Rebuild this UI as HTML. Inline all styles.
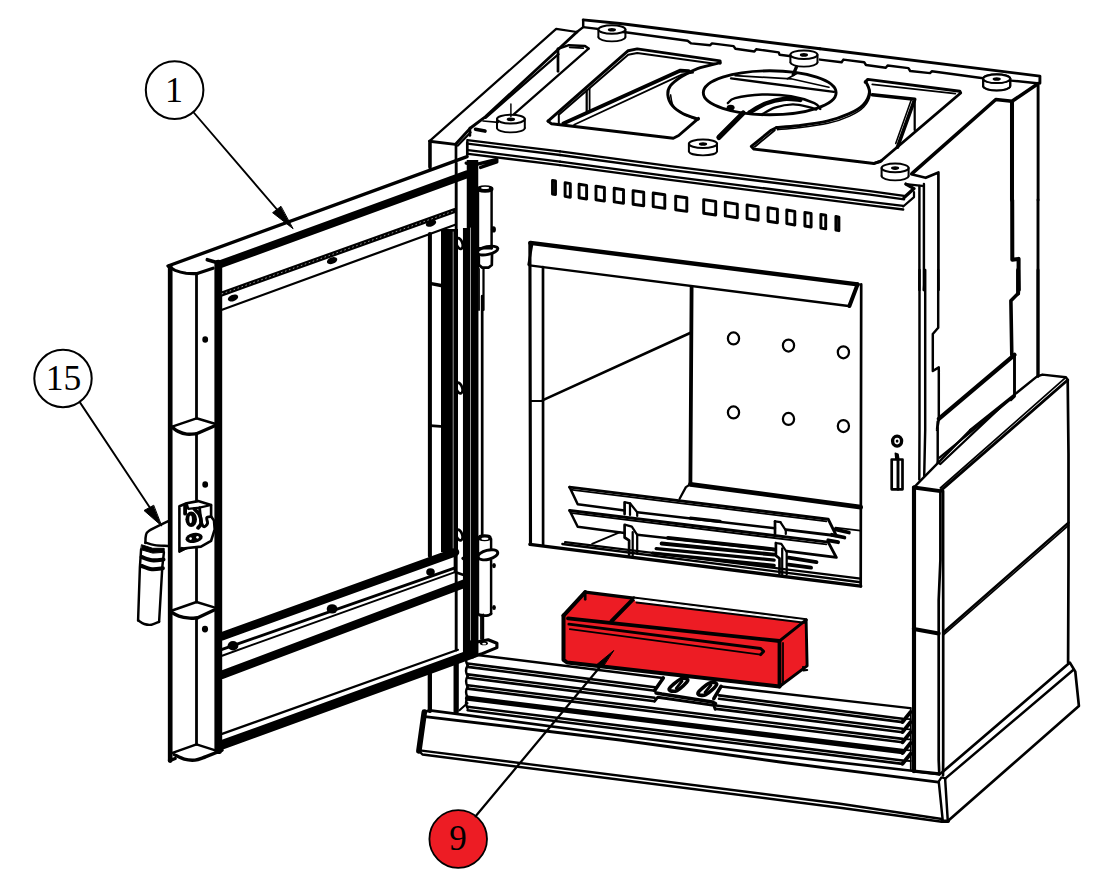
<!DOCTYPE html>
<html><head><meta charset="utf-8"><title>Parts diagram</title>
<style>
html,body{margin:0;padding:0;background:#fff}
svg{display:block}
text{font-family:"Liberation Serif","DejaVu Serif",serif}
</style></head><body>
<svg width="1111" height="887" viewBox="0 0 1111 887">
<rect width="1111" height="887" fill="#fff"/>
<g stroke-linecap="round" stroke-linejoin="round">
<ellipse cx="174.6" cy="90.1" rx="28.8" ry="28.8" fill="none" stroke="#000" stroke-width="2.02"/>
<text x="174" y="102.1" font-size="36" text-anchor="middle" fill="#000">1</text>
<path d="M193.7 112.5L285.6 219.5" fill="none" stroke="#000" stroke-width="1.9"/>
<path d="M292.8 228.5L272.6 212.7L280.7 206.5Z" fill="#000" stroke="#000" stroke-width="1"/>
<path d="M168 266L467.1 156.6" fill="none" stroke="#000" stroke-width="3.36"/>
<path d="M170.2 266.4L170.2 760.6" fill="none" stroke="#000" stroke-width="4.7"/>
<path d="M168.8 266.4C169.8 267.1 172.4 269.2 175.2 270.4C178.1 271.5 182.4 272.7 186.1 273.3C189.7 273.8 195.4 273.6 197.2 273.6" fill="none" stroke="#000" stroke-width="3.14"/>
<path d="M197.2 273.6L213.1 268.2" fill="none" stroke="#000" stroke-width="3.14"/>
<path d="M196.5 274L196.5 418.3" fill="none" stroke="#000" stroke-width="2.8"/>
<path d="M196.5 433.8L196.5 602" fill="none" stroke="#000" stroke-width="2.8"/>
<path d="M196.5 617.9L196.5 744.4" fill="none" stroke="#000" stroke-width="2.8"/>
<path d="M170.7 611L196.5 602L214.2 607.4" fill="none" stroke="#000" stroke-width="2.46"/>
<path d="M170.7 611.7C172.1 612.5 175.7 615 178.9 616.1C182 617.2 186.6 617.9 189.7 618.2C192.7 618.5 196 617.9 197.2 617.9" fill="none" stroke="#000" stroke-width="3.36"/>
<path d="M197.2 617.9L214.2 609.9" fill="none" stroke="#000" stroke-width="3.36"/>
<path d="M172.2 426.6L196.5 418.3L214.9 423.8" fill="none" stroke="#000" stroke-width="2.46"/>
<path d="M172.2 427.3C173.2 428 175.7 430.3 178.1 431.4C180.6 432.6 183.7 433.8 186.8 434.1C189.9 434.5 194.9 433.9 196.5 433.8" fill="none" stroke="#000" stroke-width="3.36"/>
<path d="M196.5 433.8L214.9 425.7" fill="none" stroke="#000" stroke-width="3.36"/>
<path d="M172.5 752.9L196.5 744.4L214.6 750.2" fill="none" stroke="#000" stroke-width="2.46"/>
<path d="M169.5 760.6L175.2 758.5" fill="none" stroke="#000" stroke-width="3.36"/>
<path d="M174.3 754.7C176 755.4 180.8 758.3 184.3 759.2C187.7 760.1 191.8 760.4 195.1 760.1C198.4 759.8 202.6 757.8 204.1 757.4" fill="none" stroke="#000" stroke-width="3.36"/>
<path d="M204.1 757.4L222.1 750.2" fill="none" stroke="#000" stroke-width="3.36"/>
<ellipse cx="205" cy="629.1" rx="3.1" ry="3.4" fill="#000" stroke="#000" stroke-width="0.0"/>
<ellipse cx="205.2" cy="339.5" rx="2.9" ry="3.2" fill="#000" stroke="#000" stroke-width="0.0"/>
<ellipse cx="205.2" cy="484.5" rx="2.9" ry="3.2" fill="#000" stroke="#000" stroke-width="0.0"/>
<path d="M218.3 263.7L218.3 750.2" fill="none" stroke="#000" stroke-width="7.8"/>
<path d="M207.3 259.7L219.4 263.2" fill="none" stroke="#000" stroke-width="3.58"/>
<path d="M219.4 264.6L467.1 174.3" fill="none" stroke="#000" stroke-width="8"/>
<path d="M222.1 293.8L454.4 210.7" fill="none" stroke="#000" stroke-width="5.04"/>
<path d="M222.1 293.8L454.4 210.7" fill="none" stroke="#fff" stroke-width="0.6" stroke-dasharray="0.8 3.4"/>
<path d="M222.1 309.7L455.2 224.7" fill="none" stroke="#000" stroke-width="2.24"/>
<ellipse cx="233" cy="298" rx="5.4" ry="3.2" fill="#000" stroke="#000" stroke-width="0.0" transform="rotate(-20 233 298)"/>
<ellipse cx="332.1" cy="260.6" rx="5.4" ry="3.2" fill="#000" stroke="#000" stroke-width="0.0" transform="rotate(-20 332.1 260.6)"/>
<ellipse cx="431" cy="223.3" rx="5.4" ry="3.2" fill="#000" stroke="#000" stroke-width="0.0" transform="rotate(-20 431 223.3)"/>
<path d="M222.1 636.3L455 552.2" fill="none" stroke="#000" stroke-width="8.5"/>
<path d="M222.1 649.4L455 567.8" fill="none" stroke="#000" stroke-width="2.91"/>
<path d="M222.1 655.7L455 572.1" fill="none" stroke="#000" stroke-width="2.02"/>
<path d="M222.1 674.7L468 582.2" fill="none" stroke="#000" stroke-width="8.5"/>
<path d="M222.1 733.9L457.9 649.8" fill="none" stroke="#000" stroke-width="2.24"/>
<path d="M222.1 744.8L472.3 653.7" fill="none" stroke="#000" stroke-width="9.5"/>
<ellipse cx="233" cy="645.8" rx="5.4" ry="4.7" fill="#000" stroke="#000" stroke-width="0.0"/>
<ellipse cx="332.1" cy="608.9" rx="5.4" ry="4.7" fill="#000" stroke="#000" stroke-width="0.0"/>
<ellipse cx="430.5" cy="572.1" rx="4.3" ry="3.8" fill="#000" stroke="#000" stroke-width="0.0"/>
<path d="M455 554.8L455 572.1L468 576.5L468 583.7" fill="none" stroke="#000" stroke-width="2.69"/>
<path d="M429.9 143L429.9 167" fill="none" stroke="#000" stroke-width="3.36"/>
<path d="M429.9 234L429.9 556" fill="none" stroke="#000" stroke-width="4.03"/>
<path d="M429.9 674L429.9 711" fill="none" stroke="#000" stroke-width="4.03"/>
<path d="M429.8 283.3L441.1 285.5" fill="none" stroke="#000" stroke-width="3.36"/>
<path d="M430.3 425.7L440.4 426.4" fill="none" stroke="#000" stroke-width="2.8"/>
<path d="M449.5 229L449.5 552" fill="none" stroke="#000" stroke-width="17" stroke-linecap="butt"/>
<path d="M453.2 232L453.2 548" fill="none" stroke="#fff" stroke-width="0.6"/>
<path d="M456.2 163L456.2 232" fill="none" stroke="#000" stroke-width="2.91"/>
<path d="M456.2 552L456.2 650" fill="none" stroke="#000" stroke-width="2.91"/>
<path d="M455.5 664L455.5 712" fill="none" stroke="#000" stroke-width="3.81"/>
<path d="M470.7 228L470.7 655" fill="none" stroke="#000" stroke-width="15.5" stroke-linecap="butt"/>
<path d="M472.5 160L472.5 228" fill="none" stroke="#000" stroke-width="11.5" stroke-linecap="butt"/>
<path d="M470.5 228L470.5 640" fill="none" stroke="#fff" stroke-width="0.6"/>
<path d="M482.2 296L482.2 535" fill="none" stroke="#000" stroke-width="2.69"/>
<path d="M482.5 615L482.5 640" fill="none" stroke="#000" stroke-width="2.24"/>
<path d="M429.5 141.2L556.2 28.9L576.9 32" fill="none" stroke="#000" stroke-width="2.24"/>
<path d="M429.5 141.2L455.3 144.4" fill="none" stroke="#000" stroke-width="2.91"/>
<path d="M430.1 141.2L430.1 168.4" fill="none" stroke="#000" stroke-width="2.69"/>
<path d="M456 144.4L456 160.8" fill="none" stroke="#000" stroke-width="2.69"/>
<path d="M456 143.8L470.5 128L485.6 116.6L558.9 48.8L576.9 32" fill="none" stroke="#000" stroke-width="2.91"/>
<path d="M457.9 145.6L470.5 132.4" fill="none" stroke="#000" stroke-width="2.24"/>
<path d="M485.6 117.9L558.5 54.2" fill="none" stroke="#000" stroke-width="2.24"/>
<path d="M469.9 128L469.9 135.5" fill="none" stroke="#000" stroke-width="2.69"/>
<path d="M475.5 129.2L485 131.1" fill="none" stroke="#000" stroke-width="3.58"/>
<path d="M483.1 121L498.3 122.3" fill="none" stroke="#000" stroke-width="1.68"/>
<path d="M514 114.1L588.6 48.6" fill="none" stroke="#000" stroke-width="2.24"/>
<path d="M558 48.8L558 71.3" fill="none" stroke="#000" stroke-width="2.69"/>
<path d="M558 48.8L568.8 45.2L585 46.1L588.6 48.6" fill="none" stroke="#000" stroke-width="2.46"/>
<path d="M569.7 47.3L583.2 48.2" fill="none" stroke="#000" stroke-width="1.79"/>
<path d="M583.2 19.9L583.2 27.1L576.9 32" fill="none" stroke="#000" stroke-width="2.46"/>
<path d="M583.2 19.9L620 23.5L820 48.8" fill="none" stroke="#000" stroke-width="2.91"/>
<path d="M583.2 27.1L627.2 32.5L687.6 40.7L691.2 43.4L710.2 45.2L712 43.4L733.6 46.1L735.4 48.8L754.4 51.5L756.2 49.3L778.7 52.4L779.6 54.7L791.3 56.2" fill="none" stroke="#000" stroke-width="2.46"/>
<path d="M467.3 140.1L560 151.4" fill="none" stroke="#000" stroke-width="2.3"/>
<path d="M467.3 143.7L560 155" fill="none" stroke="#000" stroke-width="2.3"/>
<path d="M468.2 150.2L560 161.6" fill="none" stroke="#000" stroke-width="2.3"/>
<path d="M468.2 153.8L560 165.2" fill="none" stroke="#000" stroke-width="2.3"/>
<path d="M467.3 141.9L467.3 154.5" fill="none" stroke="#000" stroke-width="2.69"/>
<path d="M548 121.1L628.2 50.7L637.2 48.9L720.1 60.9L720.1 63.2" fill="none" stroke="#000" stroke-width="2.91"/>
<path d="M720.1 62.7C716.3 63.7 704 66.3 697.5 68.6C691.1 71 685.8 73.9 681.3 76.7C676.8 79.6 672.8 82.7 670.5 85.7C668.2 88.7 667.5 91.5 667.8 94.8C668.1 98.1 669.7 102.4 672.3 105.6C674.9 108.7 678.8 111.4 683.1 113.7C687.5 116 695.9 118.2 698.4 119.1" fill="none" stroke="#000" stroke-width="2.91"/>
<path d="M548 121.1L551.6 123.8L673.3 138.2L678.7 135.5L698.5 118.4" fill="none" stroke="#000" stroke-width="2.91"/>
<path d="M558.8 124.1L558.8 114.8L628.2 54.7L637.2 52.9L714.8 63.7" fill="none" stroke="#000" stroke-width="2.02"/>
<path d="M586.7 90.4L586.7 111.2" fill="none" stroke="#000" stroke-width="2.24"/>
<path d="M589.6 88.6L589.6 109.4" fill="none" stroke="#000" stroke-width="1.79"/>
<path d="M563.3 123.4L680.5 70.6L688.6 71.1" fill="none" stroke="#000" stroke-width="3.81"/>
<path d="M574.1 124.7L682.3 74.4L693.1 72.6" fill="none" stroke="#000" stroke-width="1.79"/>
<path d="M697.6 120.2C695.1 119 686.4 115.7 682.3 113.3C678.3 110.9 675.2 108.8 673.3 105.7C671.3 102.7 671 96.7 670.6 94.9" fill="none" stroke="#000" stroke-width="1.57"/>
<ellipse cx="769.7" cy="92.8" rx="66.4" ry="22" fill="none" stroke="#000" stroke-width="2.91"/>
<path d="M743.2 113L718.9 137.4" fill="none" stroke="#000" stroke-width="5.15"/>
<path d="M731.1 78.4L833.9 91.9" fill="none" stroke="#000" stroke-width="2.46"/>
<path d="M735.1 75.7L791 78.8L828.9 87.2" fill="none" stroke="#000" stroke-width="1.68"/>
<path d="M796.4 67.1L793.2 74.6" fill="none" stroke="#000" stroke-width="3.36"/>
<path d="M787.4 78.8L798.2 72.8" fill="none" stroke="#000" stroke-width="1.68"/>
<path d="M727.9 103.1C729.1 102.3 729.4 99.5 735.1 98.1C740.8 96.6 752.8 94.8 762.1 94.5C771.5 94.2 782.3 94.8 791 96.3C799.7 97.7 809.6 101 814.4 103.1C819.3 105.2 819.2 107.9 820.2 108.9" fill="none" stroke="#000" stroke-width="2.46"/>
<path d="M749.5 112.5C752.2 111 760 105.7 765.7 103.5C771.5 101.2 778 99.6 783.8 99C789.5 98.4 797.6 99.7 800.4 99.9" fill="none" stroke="#000" stroke-width="4.48"/>
<path d="M762.1 114.3C764.2 113.2 769.7 109.3 774.8 107.6C779.9 106 787.1 104.5 792.8 104.4C798.5 104.3 805.1 106.2 809 107.1C812.9 108 815 109.2 816.2 109.6" fill="none" stroke="#000" stroke-width="2.24"/>
<ellipse cx="730.6" cy="107.6" rx="4" ry="2.9" fill="#000" stroke="#000" stroke-width="0.0"/>
<path d="M865.8 81.5C866.4 83.3 869.9 88.4 869.4 92.3C869 96.2 866.6 101.3 863.1 104.9C859.7 108.5 854.7 111.2 848.7 113.9C842.7 116.6 835.5 119.2 827.1 121.2C818.6 123.1 806.6 124.6 798.2 125.7C789.8 126.7 780.2 127.2 776.6 127.5" fill="none" stroke="#000" stroke-width="2.91"/>
<path d="M776.6 127.5L771.2 130.2L751.3 146.4L754 149.1L873.9 163.5L881.2 160.8" fill="none" stroke="#000" stroke-width="2.91"/>
<path d="M754.9 146.8L774.8 130.2" fill="none" stroke="#000" stroke-width="1.79"/>
<path d="M867.6 85.1C868.1 86.6 870.9 90.5 870.3 94.1C869.7 97.7 867.5 103.1 864 106.7C860.6 110.4 855.6 113.3 849.6 116.1C843.6 118.9 836.5 121.4 828 123.3C819.4 125.3 806.6 126.8 798.2 127.8C789.8 128.9 780.9 129.3 777.5 129.6" fill="none" stroke="#000" stroke-width="1.57"/>
<path d="M497 119.1L497 128" fill="none" stroke="#000" stroke-width="2.02"/>
<path d="M524.8 119.1L524.8 128" fill="none" stroke="#000" stroke-width="2.02"/>
<path d="M497 128A13.9 4.4 0 0 0 524.8 128" fill="none" stroke="#000" stroke-width="1.8"/>
<ellipse cx="510.9" cy="119.1" rx="13.9" ry="4.4" fill="#fff" stroke="#000" stroke-width="2.02"/>
<ellipse cx="510.9" cy="119.3" rx="4.2" ry="1.9" fill="#000" stroke="#000" stroke-width="0.0"/>
<path d="M510.9 104L510.9 116.6" fill="none" stroke="#000" stroke-width="1.46"/>
<path d="M688.9 143.8L688.9 151.4" fill="none" stroke="#000" stroke-width="2.02"/>
<path d="M717 143.8L717 151.4" fill="none" stroke="#000" stroke-width="2.02"/>
<path d="M688.9 151.4A14.1 4.3 0 0 0 717 151.4" fill="none" stroke="#000" stroke-width="1.8"/>
<ellipse cx="703" cy="143.8" rx="14.1" ry="4.3" fill="#fff" stroke="#000" stroke-width="2.02"/>
<ellipse cx="703" cy="144" rx="4.2" ry="1.8" fill="#000" stroke="#000" stroke-width="0.0"/>
<path d="M790.4 54.7L790.4 62.3" fill="none" stroke="#000" stroke-width="2.02"/>
<path d="M817.5 54.7L817.5 62.3" fill="none" stroke="#000" stroke-width="2.02"/>
<path d="M790.4 62.3A13.5 4.3 0 0 0 817.5 62.3" fill="none" stroke="#000" stroke-width="1.8"/>
<ellipse cx="803.9" cy="54.7" rx="13.5" ry="4.3" fill="#fff" stroke="#000" stroke-width="2.02"/>
<ellipse cx="803.9" cy="54.9" rx="4.1" ry="1.8" fill="#000" stroke="#000" stroke-width="0.0"/>
<path d="M598.4 29.5L598.4 37.1" fill="none" stroke="#000" stroke-width="2.02"/>
<path d="M625.4 29.5L625.4 37.1" fill="none" stroke="#000" stroke-width="2.02"/>
<path d="M598.4 37.1A13.5 4.3 0 0 0 625.4 37.1" fill="none" stroke="#000" stroke-width="1.8"/>
<ellipse cx="611.9" cy="29.5" rx="13.5" ry="4.3" fill="#fff" stroke="#000" stroke-width="2.02"/>
<ellipse cx="611.9" cy="29.7" rx="4.1" ry="1.8" fill="#000" stroke="#000" stroke-width="0.0"/>
<path d="M820 48.8L1039.9 76.1L1039.9 83.3" fill="none" stroke="#000" stroke-width="2.91"/>
<path d="M820 59.6L841.6 62.3L843.4 59.6L864.2 62.3L866 65L885.8 67.7L887.6 65.5L908.4 68.1L910.2 71L930 73.1L931.8 71.3L983.2 78.2" fill="none" stroke="#000" stroke-width="2.46"/>
<path d="M1011.1 80.6L1037.2 83.3" fill="none" stroke="#000" stroke-width="2.46"/>
<path d="M865.1 82.1L867.8 79.4L959.8 91.2L960.7 93L880.4 161.5L874.1 163.3L873.9 163.5" fill="none" stroke="#000" stroke-width="2.91"/>
<path d="M872.3 84.3L955.3 93.7" fill="none" stroke="#000" stroke-width="1.79"/>
<path d="M872.3 94.8L914.7 99.3L897.5 147.1" fill="none" stroke="#000" stroke-width="3.58"/>
<path d="M914.7 99.3L914.7 129.9" fill="none" stroke="#000" stroke-width="2.24"/>
<path d="M911.1 100.2L895.7 143.5" fill="none" stroke="#000" stroke-width="1.57"/>
<path d="M912.2 173.3L995.8 99.5L1012 101.3L1037.2 84.2" fill="none" stroke="#000" stroke-width="3.58"/>
<path d="M1012 102.2L1012 200" fill="none" stroke="#000" stroke-width="4.03"/>
<path d="M1012.2 200L1012.3 259.8L1018.6 258.9L1018.6 290" fill="none" stroke="#000" stroke-width="4.03"/>
<path d="M1038.1 83.3L1038.1 200" fill="none" stroke="#000" stroke-width="2.91"/>
<path d="M1038 200L1038 376" fill="none" stroke="#000" stroke-width="2.91"/>
<path d="M911.3 174.2L925.7 177.8L938.4 172.4L938.4 290" fill="none" stroke="#000" stroke-width="2.69"/>
<path d="M905.9 184.1L922.1 185.9" fill="none" stroke="#000" stroke-width="2.46"/>
<path d="M919.4 185.9L919.4 290" fill="none" stroke="#000" stroke-width="2.46"/>
<path d="M923.9 184.1L923.9 290" fill="none" stroke="#000" stroke-width="2.46"/>
<path d="M560 151.4L670 166.2L870 191.1L904.1 195.8" fill="none" stroke="#000" stroke-width="2.3"/>
<path d="M560 155L670 169.8L870 194.7L904.1 199.4" fill="none" stroke="#000" stroke-width="2.3"/>
<path d="M904.1 197.6L914 188.6L905.9 184.1" fill="none" stroke="#000" stroke-width="3.36"/>
<path d="M560 161.6L670 176.3L870 201.8L903.2 205.9" fill="none" stroke="#000" stroke-width="2.3"/>
<path d="M903.2 206.5L914 197.1L914 192.2" fill="none" stroke="#000" stroke-width="2.24"/>
<path d="M560 165.2L670 179.9L870 205.4L903.2 209.5" fill="none" stroke="#000" stroke-width="2.3"/>
<path d="M983.2 78.5L983.2 86.1" fill="none" stroke="#000" stroke-width="2.02"/>
<path d="M1010.3 78.5L1010.3 86.1" fill="none" stroke="#000" stroke-width="2.02"/>
<path d="M983.2 86.1A13.5 4.3 0 0 0 1010.3 86.1" fill="none" stroke="#000" stroke-width="1.8"/>
<ellipse cx="996.7" cy="78.5" rx="13.5" ry="4.3" fill="#fff" stroke="#000" stroke-width="2.02"/>
<ellipse cx="996.7" cy="78.7" rx="4.1" ry="1.8" fill="#000" stroke="#000" stroke-width="0.0"/>
<path d="M983.1 78.8L983.1 86.3" fill="none" stroke="#000" stroke-width="2.02"/>
<path d="M1010.2 78.8L1010.2 86.3" fill="none" stroke="#000" stroke-width="2.02"/>
<path d="M983.1 86.3A13.5 4.3 0 0 0 1010.2 86.3" fill="none" stroke="#000" stroke-width="1.8"/>
<ellipse cx="996.7" cy="78.8" rx="13.5" ry="4.3" fill="#fff" stroke="#000" stroke-width="2.02"/>
<ellipse cx="996.7" cy="79" rx="4.1" ry="1.8" fill="#000" stroke="#000" stroke-width="0.0"/>
<path d="M881.6 167.9L881.6 176" fill="none" stroke="#000" stroke-width="2.02"/>
<path d="M908.6 167.9L908.6 176" fill="none" stroke="#000" stroke-width="2.02"/>
<path d="M881.6 176A13.5 4.3 0 0 0 908.6 176" fill="none" stroke="#000" stroke-width="1.8"/>
<ellipse cx="895.1" cy="167.9" rx="13.5" ry="4.3" fill="#fff" stroke="#000" stroke-width="2.02"/>
<ellipse cx="895.1" cy="168.1" rx="4.1" ry="1.8" fill="#000" stroke="#000" stroke-width="0.0"/>
<path d="M552.5 180.4L555.5 181L555.5 194.6L552.5 194Z" fill="none" stroke="#000" stroke-width="2.9"/>
<path d="M565.1 182.7L570.3 183.7L570.3 197.3L565.1 196.3Z" fill="none" stroke="#000" stroke-width="2.9"/>
<path d="M579.1 184.2L586.6 185.4L586.6 199L579.1 197.8Z" fill="none" stroke="#000" stroke-width="2.9"/>
<path d="M596 186.1L604.4 187.5L604.4 201.1L596 199.7Z" fill="none" stroke="#000" stroke-width="2.9"/>
<path d="M614.2 188.3L623.5 189.7L623.5 203.3L614.2 201.9Z" fill="none" stroke="#000" stroke-width="2.9"/>
<path d="M633.1 190.6L643.7 192.2L643.7 205.8L633.1 204.2Z" fill="none" stroke="#000" stroke-width="2.9"/>
<path d="M653.2 193L664.8 194.8L664.8 208.4L653.2 206.6Z" fill="none" stroke="#000" stroke-width="2.9"/>
<path d="M675.7 196.2L686.8 197.8L686.8 211.4L675.7 209.8Z" fill="none" stroke="#000" stroke-width="2.9"/>
<path d="M703.7 199.6L715.7 201.4L715.7 215L703.7 213.2Z" fill="none" stroke="#000" stroke-width="2.9"/>
<path d="M725.3 202.3L737.3 204.1L737.3 217.7L725.3 215.9Z" fill="none" stroke="#000" stroke-width="2.9"/>
<path d="M747.1 205L758.1 206.6L758.1 220.2L747.1 218.6Z" fill="none" stroke="#000" stroke-width="2.9"/>
<path d="M768.1 207.7L777.4 209.1L777.4 222.7L768.1 221.3Z" fill="none" stroke="#000" stroke-width="2.9"/>
<path d="M786.8 210L794.8 211.4L794.8 225L786.8 223.6Z" fill="none" stroke="#000" stroke-width="2.9"/>
<path d="M804.9 212.4L811.1 213.4L811.1 227L804.9 226Z" fill="none" stroke="#000" stroke-width="2.9"/>
<path d="M820.9 214.4L825.7 215.3L825.7 228.9L820.9 228.1Z" fill="none" stroke="#000" stroke-width="2.9"/>
<path d="M835.9 216.5L838.9 217.1L838.9 230.7L835.9 230.1Z" fill="none" stroke="#000" stroke-width="2.9"/>
<path d="M530.4 242.9L857.6 284.4" fill="none" stroke="#000" stroke-width="4.48"/>
<path d="M529.5 265.4L848.5 306" fill="none" stroke="#000" stroke-width="2.46"/>
<path d="M532.2 243.8L528.6 264.5" fill="none" stroke="#000" stroke-width="2.46"/>
<path d="M857.6 284.4L849.4 306" fill="none" stroke="#000" stroke-width="4.03"/>
<path d="M529.9 242.9L530.5 544.4" fill="none" stroke="#000" stroke-width="3.14"/>
<path d="M543 267.2L543.1 545.1" fill="none" stroke="#000" stroke-width="2.69"/>
<path d="M530.7 401L542.9 401" fill="none" stroke="#000" stroke-width="2.24"/>
<path d="M542.9 400.1L691.2 332.5" fill="none" stroke="#000" stroke-width="2.69"/>
<path d="M691.6 287.1L690.4 484.3" fill="none" stroke="#000" stroke-width="3.81"/>
<path d="M861.2 284.4L860.7 586.2" fill="none" stroke="#000" stroke-width="2.69"/>
<ellipse cx="733.5" cy="338.4" rx="5.6" ry="6" fill="none" stroke="#000" stroke-width="2.24"/>
<ellipse cx="788.5" cy="345.6" rx="5.6" ry="6" fill="none" stroke="#000" stroke-width="2.24"/>
<ellipse cx="843.4" cy="352.3" rx="5.6" ry="6" fill="none" stroke="#000" stroke-width="2.24"/>
<ellipse cx="733.5" cy="412.4" rx="5.6" ry="6" fill="none" stroke="#000" stroke-width="2.24"/>
<ellipse cx="788.5" cy="418.9" rx="5.6" ry="6" fill="none" stroke="#000" stroke-width="2.24"/>
<ellipse cx="843.4" cy="426.1" rx="5.6" ry="6" fill="none" stroke="#000" stroke-width="2.24"/>
<path d="M690.4 484.3L860.7 507.2" fill="none" stroke="#000" stroke-width="4.7"/>
<path d="M690.4 484.3L685.9 487.1L679.6 498.8" fill="none" stroke="#000" stroke-width="2.24"/>
<path d="M569.6 487.1L828.2 519.2L836.3 535.7L785.8 529.6" fill="none" stroke="#000" stroke-width="2.91"/>
<path d="M572.3 489.8L826.4 521.3" fill="none" stroke="#000" stroke-width="1.79"/>
<path d="M569.6 487.1L577.7 504.2L624.6 510.5" fill="none" stroke="#000" stroke-width="2.46"/>
<path d="M637.2 512.3L775 528.2" fill="none" stroke="#000" stroke-width="2.46"/>
<path d="M569.6 510.5L828.2 542.1L836.3 557.4L786.7 551.1" fill="none" stroke="#000" stroke-width="2.91"/>
<path d="M572.3 513.2L826.4 544.4" fill="none" stroke="#000" stroke-width="1.79"/>
<path d="M569.6 510.5L577.7 526.7L624.6 533" fill="none" stroke="#000" stroke-width="2.46"/>
<path d="M637.2 534.8L775.9 550.2" fill="none" stroke="#000" stroke-width="2.46"/>
<path d="M624.6 502.4L624.6 514.1" fill="none" stroke="#000" stroke-width="2.69"/>
<path d="M630 503.3L630 515" fill="none" stroke="#000" stroke-width="2.24"/>
<path d="M625.5 502.4L630 503.3L637.2 512.3L637.2 515.9" fill="none" stroke="#000" stroke-width="2.24"/>
<path d="M624.6 524.9L624.6 537.5L629.1 540.3L629.1 554.7" fill="none" stroke="#000" stroke-width="2.69"/>
<path d="M632.7 532.1L632.7 555.6" fill="none" stroke="#000" stroke-width="2.24"/>
<path d="M625.5 524.9L631.8 526.7L637.2 534.8L637.2 553.8" fill="none" stroke="#000" stroke-width="2.24"/>
<path d="M775 521.3L775 533.9" fill="none" stroke="#000" stroke-width="2.69"/>
<path d="M780.4 522.2L785.8 530.3L785.8 533.9" fill="none" stroke="#000" stroke-width="2.24"/>
<path d="M775 521.3L780.4 522.2" fill="none" stroke="#000" stroke-width="2.24"/>
<path d="M775.9 543L775.9 555.6L779.5 558.3L779.5 573.6" fill="none" stroke="#000" stroke-width="2.69"/>
<path d="M782.2 548.4L782.2 574.5" fill="none" stroke="#000" stroke-width="2.24"/>
<path d="M775.9 543L781.3 543.9L786.7 552L786.7 574.5" fill="none" stroke="#000" stroke-width="2.24"/>
<path d="M592.1 543.9L620.1 532.1" fill="none" stroke="#000" stroke-width="1.79"/>
<path d="M690.4 518.1L720 521.3" fill="none" stroke="#000" stroke-width="3.36"/>
<path d="M667.9 537.9L774.1 549.3" fill="none" stroke="#000" stroke-width="3.81"/>
<path d="M661.6 543.5L774.1 554.7" fill="none" stroke="#000" stroke-width="3.81"/>
<path d="M656.2 548.7L774.1 560.1" fill="none" stroke="#000" stroke-width="3.36"/>
<path d="M652.6 553.1L774.1 565.5" fill="none" stroke="#000" stroke-width="3.36"/>
<path d="M835.4 529.4L848.9 532.5" fill="none" stroke="#000" stroke-width="3.81"/>
<path d="M831.8 534.8L844.4 537.5" fill="none" stroke="#000" stroke-width="3.81"/>
<path d="M828.2 540.3L838.1 542.2" fill="none" stroke="#000" stroke-width="3.81"/>
<path d="M788.5 557.7L816.5 562.1" fill="none" stroke="#000" stroke-width="3.81"/>
<path d="M788.5 564.6L811.1 567.7" fill="none" stroke="#000" stroke-width="3.81"/>
<path d="M835.4 527.6L860.3 530.7" fill="none" stroke="#000" stroke-width="1.79"/>
<path d="M529.9 544.4L860.7 586.2" fill="none" stroke="#000" stroke-width="3.36"/>
<path d="M562.4 544L860.7 582.3" fill="none" stroke="#000" stroke-width="2.46"/>
<path d="M565.1 542.1L860.7 578.7" fill="none" stroke="#000" stroke-width="2.24"/>
<ellipse cx="897.1" cy="441.1" rx="4.5" ry="5" fill="none" stroke="#000" stroke-width="3.36"/>
<ellipse cx="897.1" cy="441.1" rx="1.4" ry="1.6" fill="#000" stroke="#000" stroke-width="0.0"/>
<path d="M891.7 459.5L902.5 459.5L902.5 489.3L891.7 489.3Z" fill="none" stroke="#000" stroke-width="2.69"/>
<path d="M898 459.5L898 489.3" fill="none" stroke="#000" stroke-width="2.91"/>
<path d="M895.3 453.2L898 454.1L898.9 459.5L895.9 459.5Z" fill="#000" stroke="#000" stroke-width="1.5"/>
<path d="M919.4 290L919.5 270L919.5 430L919.3 479.4" fill="none" stroke="#000" stroke-width="2.46"/>
<path d="M923.9 290L925.2 270L925.2 430L924.2 475.7" fill="none" stroke="#000" stroke-width="2.46"/>
<path d="M938.4 290L938.2 270L938.2 327.7L932.8 334L932.8 371L938.8 367.4L938.8 419.7L937 430L937.7 421.6L937.7 463.1" fill="none" stroke="#000" stroke-width="2.46"/>
<path d="M1018.6 290L1018.1 270L1018.1 293.4" fill="none" stroke="#000" stroke-width="4.03"/>
<path d="M1018.1 293.4L1010.9 300.7L1011.8 354.8" fill="none" stroke="#000" stroke-width="3.58"/>
<path d="M1011.8 354.8L1014.5 354.8L1014.5 396.2L1010.9 399.8" fill="none" stroke="#000" stroke-width="2.91"/>
<path d="M938.8 418.8L1014.5 354.8" fill="none" stroke="#000" stroke-width="4.26"/>
<path d="M1038 270L1038 376.4" fill="none" stroke="#000" stroke-width="2.91"/>
<path d="M970.3 430L1037.1 376.4L1042.5 374.6L1065.9 377.3L1067.7 380" fill="none" stroke="#000" stroke-width="2.46"/>
<path d="M937.7 462.2L940.4 464L1004.4 403.6" fill="none" stroke="#000" stroke-width="2.24"/>
<path d="M939.5 457.7L1009.8 400" fill="none" stroke="#000" stroke-width="2.24"/>
<path d="M1067.7 380L941.3 490.2" fill="none" stroke="#000" stroke-width="2.91"/>
<path d="M1065 378.2L940.4 488" fill="none" stroke="#000" stroke-width="1.79"/>
<path d="M1067.7 380L1068.5 454.1L1068.5 560L1068.1 662.6" fill="none" stroke="#000" stroke-width="2.69"/>
<path d="M913.9 487.5L940.4 491.1" fill="none" stroke="#000" stroke-width="3.81"/>
<path d="M913.9 487.5L917.9 483.3L970.3 430" fill="none" stroke="#000" stroke-width="2.46"/>
<path d="M914 487.5L914 771.2" fill="none" stroke="#000" stroke-width="4.14"/>
<path d="M940.4 491.1L940.4 560L938.7 600L938.7 760L939.3 774.3" fill="none" stroke="#000" stroke-width="2.69"/>
<path d="M943.1 491.1L943.1 560L943.2 600L943.2 760L943 775.5" fill="none" stroke="#000" stroke-width="2.69"/>
<path d="M913.8 628.9L938.7 633.4" fill="none" stroke="#000" stroke-width="4.03"/>
<path d="M943.2 632.5L1068.5 522.6" fill="none" stroke="#000" stroke-width="2.46"/>
<path d="M943.2 635.2L1068.5 525.3" fill="none" stroke="#000" stroke-width="1.79"/>
<path d="M915.4 771.4L939.3 774.3" fill="none" stroke="#000" stroke-width="2.46"/>
<path d="M429.8 674.3L429.8 710.7" fill="none" stroke="#000" stroke-width="4.03"/>
<path d="M455 663.4L455 712.1" fill="none" stroke="#000" stroke-width="2.24"/>
<path d="M457.7 663.4L457.7 712.1" fill="none" stroke="#000" stroke-width="2.24"/>
<path d="M459.5 710.3L467.6 703.1" fill="none" stroke="#000" stroke-width="2.02"/>
<path d="M467.6 663.5L655 687.3" fill="none" stroke="#000" stroke-width="2.58"/>
<path d="M719 695.4L902.5 718.7" fill="none" stroke="#000" stroke-width="2.58"/>
<path d="M467.6 666.9L655 690.7" fill="none" stroke="#000" stroke-width="2.58"/>
<path d="M719 698.8L902.5 722.1" fill="none" stroke="#000" stroke-width="2.58"/>
<path d="M467.6 674.4L654.5 697.8" fill="none" stroke="#000" stroke-width="2.58"/>
<path d="M716 705.5L902.5 728.8" fill="none" stroke="#000" stroke-width="2.58"/>
<path d="M467.6 677.8L654.5 701.2" fill="none" stroke="#000" stroke-width="2.58"/>
<path d="M716 708.9L902.5 732.2" fill="none" stroke="#000" stroke-width="2.58"/>
<path d="M467.6 685.2L902.5 738.9" fill="none" stroke="#000" stroke-width="2.58"/>
<path d="M467.6 688.6L902.5 742.3" fill="none" stroke="#000" stroke-width="2.58"/>
<path d="M467.6 698.2L902.5 751.5" fill="none" stroke="#000" stroke-width="5.38"/>
<path d="M467.6 706.8L902.5 760.5" fill="none" stroke="#000" stroke-width="2.58"/>
<path d="M467.6 710.2L902.5 763.9" fill="none" stroke="#000" stroke-width="2.58"/>
<path d="M479.4 655.3L663 678" fill="none" stroke="#000" stroke-width="2.46"/>
<path d="M721 686.5L910.1 708.1" fill="none" stroke="#000" stroke-width="2.46"/>
<path d="M663.3 678L654.6 690.6" fill="none" stroke="#000" stroke-width="3.58"/>
<path d="M721 686.4L713.8 698.7" fill="none" stroke="#000" stroke-width="3.58"/>
<path d="M656.1 692.9L661.8 694L712.3 702.1L715.5 703.6" fill="none" stroke="#000" stroke-width="3.58"/>
<path d="M654.6 701.1L657.8 697.2L713.8 705.4L715.2 709.3" fill="none" stroke="#000" stroke-width="2.91"/>
<path d="M669.1 689.1C669.7 687.2 677.5 680.5 680.6 679C683.7 677.6 688.4 678.6 687.8 680.5C687.2 682.4 680.1 689.1 677 690.6C673.9 692 668.5 691.1 669.1 689.1Z" fill="none" stroke="#000" stroke-width="3.58"/>
<path d="M676.3 688.4L682 681.2" fill="none" stroke="#000" stroke-width="2.91"/>
<path d="M697.9 693.2C698.5 691.3 706.3 684.5 709.4 683.1C712.6 681.6 717.3 682.6 716.7 684.5C716.1 686.5 709 693.2 705.8 694.6C702.7 696.1 697.3 695.1 697.9 693.2Z" fill="none" stroke="#000" stroke-width="3.58"/>
<path d="M705.1 692.5L710.9 685.2" fill="none" stroke="#000" stroke-width="2.91"/>
<path d="M467.6 654.8Q464.5 659.8 467.6 665.5" fill="none" stroke="#000" stroke-width="2.4"/>
<path d="M467.6 665.5Q464.5 670.5 467.6 676.2" fill="none" stroke="#000" stroke-width="2.4"/>
<path d="M467.6 676.2Q464.5 681.2 467.6 686.9" fill="none" stroke="#000" stroke-width="2.4"/>
<path d="M467.6 686.9Q464.5 691.9 467.6 697.6" fill="none" stroke="#000" stroke-width="2.4"/>
<path d="M467.6 697.6Q464.5 702.6 467.6 708.3" fill="none" stroke="#000" stroke-width="2.4"/>
<path d="M902.5 722L910.6 711.9" fill="none" stroke="#000" stroke-width="3.81"/>
<path d="M902.5 718.8L910.6 719.2" fill="none" stroke="#000" stroke-width="1.79"/>
<path d="M902.5 732.1L910.6 722" fill="none" stroke="#000" stroke-width="3.81"/>
<path d="M902.5 728.9L910.6 729.3" fill="none" stroke="#000" stroke-width="1.79"/>
<path d="M902.5 742.2L910.6 732.1" fill="none" stroke="#000" stroke-width="3.81"/>
<path d="M902.5 739L910.6 739.4" fill="none" stroke="#000" stroke-width="1.79"/>
<path d="M902.5 753.1L910.6 743" fill="none" stroke="#000" stroke-width="3.81"/>
<path d="M902.5 749.9L910.6 750.3" fill="none" stroke="#000" stroke-width="1.79"/>
<path d="M902.5 763.8L910.6 753.7" fill="none" stroke="#000" stroke-width="3.81"/>
<path d="M902.5 760.6L910.6 761" fill="none" stroke="#000" stroke-width="1.79"/>
<path d="M910.8 708L910.8 770" fill="none" stroke="#000" stroke-width="1.79"/>
<path d="M424.3 712.1L418.9 750.9" fill="none" stroke="#000" stroke-width="5.6"/>
<path d="M424.3 712.1L429.8 710.3L620 735.5L760 753.4L913.9 771" fill="none" stroke="#000" stroke-width="2.69"/>
<path d="M424.9 716.6L620 740L780 762L938.3 782.1" fill="none" stroke="#000" stroke-width="2.91"/>
<path d="M418.9 750.9L422.5 754.5L840 807.8L941.9 821.7" fill="none" stroke="#000" stroke-width="2.46"/>
<path d="M419.8 750.4L840 803.7L941.9 819" fill="none" stroke="#000" stroke-width="2.46"/>
<path d="M913.9 771.2L939.2 773.9" fill="none" stroke="#000" stroke-width="3.36"/>
<path d="M938.8 782.1L942.8 821.2" fill="none" stroke="#000" stroke-width="2.46"/>
<path d="M945.1 778.4L947.8 821.2" fill="none" stroke="#000" stroke-width="2.46"/>
<path d="M938.3 782.1L941.4 777.5L945.5 778.4" fill="none" stroke="#000" stroke-width="2.24"/>
<path d="M939.5 773.9L942.8 772.1" fill="none" stroke="#000" stroke-width="2.24"/>
<path d="M942.8 771.8L1069.9 662.6L1075.3 671.6L1078.9 705.9L948.2 820.8" fill="none" stroke="#000" stroke-width="2.69"/>
<path d="M945.5 778.4L1073.5 669.8" fill="none" stroke="#000" stroke-width="2.46"/>
<path d="M941.9 821.2L948.2 821.2" fill="none" stroke="#000" stroke-width="3.36"/>
<path d="M585.2 592.1L806.1 619.8L807.1 665.8L779.5 686.5L567.1 662.5L563.5 659.8L563.5 615.6Z" fill="#ed1c24" stroke="#ed1c24" stroke-width="1"/>
<path d="M585.2 592.1L806.1 619.8" fill="none" stroke="#000" stroke-width="3.36"/>
<path d="M585.2 592.1L563.5 615.6" fill="none" stroke="#000" stroke-width="4.03"/>
<path d="M585.2 592.1L585.2 599.3" fill="none" stroke="#000" stroke-width="2.69"/>
<path d="M563.5 615.6L563.5 659.8L567.1 662.5L779.5 686.5" fill="none" stroke="#000" stroke-width="4.03"/>
<path d="M568 618.3L779.5 641" fill="none" stroke="#000" stroke-width="3.81"/>
<path d="M568.9 624.1L760.7 648.5L763.6 651.4L760.7 654.6" fill="none" stroke="#000" stroke-width="2.91"/>
<path d="M569.8 629.1L760.7 654.6" fill="none" stroke="#000" stroke-width="1.79"/>
<path d="M633.9 598.4L611.3 621.5" fill="none" stroke="#000" stroke-width="4.03"/>
<path d="M635.1 599.2L805.2 620.6L805.2 622.4L636.9 602.1Z" fill="#fff" stroke="#fff" stroke-width="1"/>
<path d="M636.6 602.4L804.9 622.7" fill="none" stroke="#000" stroke-width="2.02"/>
<path d="M779.5 641L779.5 686.5" fill="none" stroke="#000" stroke-width="3.81"/>
<path d="M783 643L783 684" fill="none" stroke="#000" stroke-width="1.79"/>
<path d="M779.5 641L806.1 619.8L807.1 665.8L779.5 686.5" fill="none" stroke="#000" stroke-width="2.91"/>
<path d="M803.1 667.1L803.4 670.3L807.1 670" fill="none" stroke="#000" stroke-width="2.24"/>
<ellipse cx="458.2" cy="839" rx="28.8" ry="28.8" fill="#ed1c24" stroke="#000" stroke-width="1.79"/>
<text x="458" y="850" font-size="35" text-anchor="middle" fill="#000">9</text>
<path d="M475.6 816.3L604.1 662" fill="none" stroke="#000" stroke-width="2.24"/>
<path d="M613.5 650.7L596 665.2L602.3 667.3Z" fill="#000" stroke="#000" stroke-width="1"/>
<ellipse cx="63" cy="378.5" rx="28.7" ry="28.7" fill="none" stroke="#000" stroke-width="2.02"/>
<text x="63.5" y="390" font-size="35.5" text-anchor="middle" fill="#000">15</text>
<path d="M80.1 402.6L157.7 519.4" fill="none" stroke="#000" stroke-width="1.9"/>
<path d="M161.5 525.8L144 510.5L153.4 505.4Z" fill="#000" stroke="#000" stroke-width="1"/>
<path d="M167.8 521.3C164.7 522.9 152.7 528.3 149.1 530.7C145.4 533.1 146.5 533.7 145.9 535.7C145.3 537.8 145.5 541.8 145.4 543" fill="none" stroke="#000" stroke-width="2.46"/>
<path d="M145.4 542.5C147 543 151.1 544.5 154.8 545.1C158.6 545.7 165.6 545.8 167.8 546" fill="none" stroke="#000" stroke-width="2.46"/>
<path d="M141.8 544.8L152.7 548.3L164.2 548.3L164.2 552.3L152.7 553.1L141.1 549.7Z" fill="#000" stroke="#000" stroke-width="1"/>
<path d="M141.6 557C143.3 557.5 148.3 559.8 151.9 560.3C155.6 560.7 161.6 559.7 163.5 559.5" fill="none" stroke="#000" stroke-width="4.03"/>
<path d="M141.8 566C143.5 566.6 148.4 568.9 151.9 569.2C155.4 569.6 161.1 568.4 162.9 568.2" fill="none" stroke="#000" stroke-width="4.03"/>
<path d="M141.1 549.4L139.9 567L138.1 620.4" fill="none" stroke="#000" stroke-width="2.46"/>
<path d="M163.9 552.3L162.3 567L159.1 621.8" fill="none" stroke="#000" stroke-width="2.46"/>
<path d="M138.1 620.4C139.2 621 142 623.3 144.3 624C146.5 624.7 149 625.1 151.5 624.7C154 624.3 157.8 622.3 159.1 621.8" fill="none" stroke="#000" stroke-width="2.46"/>
<path d="M179.4 506.2L186.6 503.3L198.1 501.1L211.1 505L211.1 516.6L214 520.6L214.7 529.3L211.1 540.8L201 546.6L185.1 548.3L179.4 551.6Z" fill="#fff" stroke="#000" stroke-width="2.6"/>
<path d="M186.6 503.3L188.3 508.8L199.5 507.6L211.1 505" fill="none" stroke="#000" stroke-width="2.24"/>
<path d="M199.5 507.6C199.8 509.8 200.3 517.4 201 520.6C201.7 523.8 202.8 526.2 203.9 526.7C205 527.1 207 525 207.5 523.5C208 522 206.2 518.9 206.8 517.7C207.4 516.6 210.4 516.7 211.1 516.6" fill="none" stroke="#000" stroke-width="2.91"/>
<path d="M179.4 551.6L180.8 547.3L188 548.3Z" fill="#000" stroke="#000" stroke-width="1"/>
<ellipse cx="191.2" cy="519.2" rx="5.8" ry="7.8" fill="#000" stroke="#000" stroke-width="0.0"/>
<ellipse cx="190.6" cy="519.4" rx="1.3" ry="3.8" fill="#fff" stroke="#000" stroke-width="0.0"/>
<path d="M194.5 509.1C195.3 510 198.5 512.4 199.5 514.8C200.6 517.2 201.2 521.3 201 523.5C200.8 525.6 198.6 527.1 198.1 527.8" fill="none" stroke="#000" stroke-width="3.81"/>
<ellipse cx="194.1" cy="537.9" rx="8.7" ry="4.9" fill="#000" stroke="#000" stroke-width="0.0" transform="rotate(-10 194.1 537.9)"/>
<ellipse cx="190.6" cy="538.6" rx="1.3" ry="1.4" fill="#fff" stroke="#000" stroke-width="0.0"/>
<ellipse cx="197.5" cy="537.3" rx="1.3" ry="1.4" fill="#fff" stroke="#000" stroke-width="0.0"/>
<path d="M185.1 505.9L185.1 513.7" fill="none" stroke="#000" stroke-width="3.81"/>
<path d="M478.1 188.8L478.1 268.1" fill="none" stroke="#000" stroke-width="2.24"/>
<path d="M491.6 190.6L491.6 248.3" fill="none" stroke="#000" stroke-width="2.46"/>
<ellipse cx="485.1" cy="189" rx="7.6" ry="2.9" fill="#000" stroke="#000" stroke-width="1.68"/>
<ellipse cx="485.1" cy="187.9" rx="4" ry="1.1" fill="#fff" stroke="#000" stroke-width="0.0"/>
<ellipse cx="487.4" cy="250.6" rx="10.6" ry="3.9" fill="none" stroke="#000" stroke-width="2.91" transform="rotate(-12 487.4 250.6)"/>
<path d="M478.8 256.8L478.8 264.9L482.2 267.6L488.7 267.6L491.8 264.9L492 254.6" fill="none" stroke="#000" stroke-width="2.69"/>
<path d="M479 248.3L491.6 248.3" fill="none" stroke="#000" stroke-width="2.46"/>
<ellipse cx="493.4" cy="229.4" rx="2.5" ry="3.2" fill="#000" stroke="#000" stroke-width="0.0"/>
<path d="M479 269L479 310" fill="none" stroke="#000" stroke-width="1.79"/>
<path d="M483.5 269L483.5 310" fill="none" stroke="#000" stroke-width="2.24"/>
<path d="M466.2 163.1L474.3 164.9L496.8 159.5L496.8 162L480.6 167.4" fill="none" stroke="#000" stroke-width="3.36"/>
<ellipse cx="459.4" cy="243.5" rx="3" ry="5.6" fill="none" stroke="#000" stroke-width="2.69" transform="rotate(-20 459.4 243.5)"/>
<path d="M478.1 539L478.1 614" fill="none" stroke="#000" stroke-width="2.24"/>
<path d="M491.1 539L491.1 549.8" fill="none" stroke="#000" stroke-width="2.46"/>
<path d="M491.1 560.6L491.1 614" fill="none" stroke="#000" stroke-width="2.46"/>
<ellipse cx="484.6" cy="537.8" rx="6.3" ry="2.6" fill="#000" stroke="#000" stroke-width="1.68"/>
<ellipse cx="484.9" cy="538.7" rx="3.5" ry="1.2" fill="#fff" stroke="#000" stroke-width="0.0"/>
<ellipse cx="487.9" cy="554.8" rx="10.1" ry="4.6" fill="none" stroke="#000" stroke-width="2.91" transform="rotate(-14 487.9 554.8)"/>
<path d="M478.1 614C478.6 614.2 479.3 615.2 481 615.4C482.7 615.7 486.5 615.7 488.2 615.4C489.9 615.1 490.6 614 491.1 613.7" fill="none" stroke="#000" stroke-width="2.69"/>
<ellipse cx="494" cy="565.6" rx="1.9" ry="2.6" fill="#000" stroke="#000" stroke-width="0.0"/>
<ellipse cx="494" cy="607.5" rx="1.9" ry="2.6" fill="#000" stroke="#000" stroke-width="0.0"/>
<path d="M463 558.4L466.6 560.6L466.6 564.2" fill="none" stroke="#000" stroke-width="3.36"/>
<ellipse cx="459.2" cy="535" rx="3" ry="5.6" fill="none" stroke="#000" stroke-width="2.69" transform="rotate(-20 459.2 535)"/>
<ellipse cx="459.2" cy="388" rx="3" ry="5.6" fill="none" stroke="#000" stroke-width="2.69" transform="rotate(-20 459.2 388)"/>
<path d="M481 614.4L481 639" fill="none" stroke="#000" stroke-width="1.79"/>
<path d="M483.2 614.4L483.2 639" fill="none" stroke="#000" stroke-width="2.02"/>
<path d="M478.1 641.8L488.2 639.7L496.9 643.3L496.9 647.6L481 654.1L472.3 657" fill="none" stroke="#000" stroke-width="3.14"/>
<ellipse cx="483.9" cy="643.3" rx="4" ry="2" fill="#000" stroke="#000" stroke-width="0.0"/>
<ellipse cx="484.2" cy="643.7" rx="2" ry="0.9" fill="#fff" stroke="#000" stroke-width="0.0"/>
</g>
</svg>
</body></html>
